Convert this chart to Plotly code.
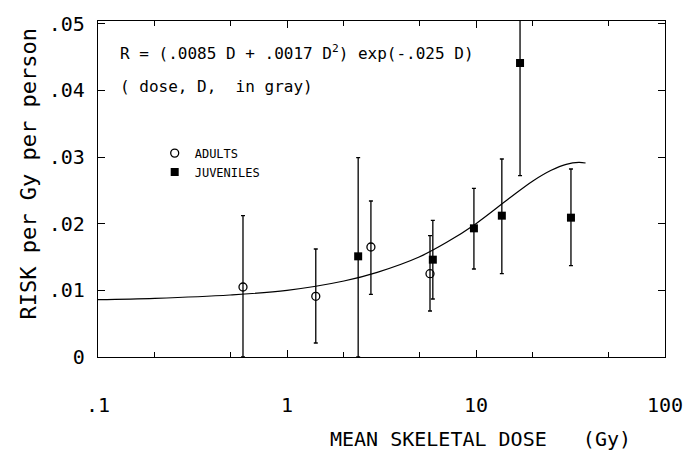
import plotly.graph_objects as go

# Adults (open circles)
adult_dose = [0.585, 1.42, 2.78, 5.71]
adult_risk = [0.0105, 0.0091, 0.0165, 0.0125]
adult_hi = [0.0212, 0.0162, 0.0234, 0.0182]
adult_lo = [0.0, 0.0021, 0.0094, 0.0069]

# Juveniles (filled squares)
juv_dose = [2.38, 5.91, 9.75, 13.7, 17.1, 31.8]
juv_risk = [0.0151, 0.0146, 0.0193, 0.0212, 0.0441, 0.0209]
juv_hi = [0.0299, 0.0205, 0.0253, 0.0297, 0.056, 0.0282]
juv_lo = [0.0, 0.0087, 0.0132, 0.0125, 0.0272, 0.0137]

# Fitted curve
curve_dose = [0.1, 0.2, 0.5, 1, 2, 3, 5, 7, 10, 15, 20, 25, 30, 35, 38]
curve_risk = [0.0086, 0.0088, 0.0093, 0.0100, 0.0114, 0.0127, 0.0150, 0.0172,
              0.0200, 0.0238, 0.0264, 0.0280, 0.0289, 0.0292, 0.0291]

x_ticks = [0.1, 1, 10, 100]
x_ticktext = [".1", "1", "10", "100"]
x_minor = [0.2, 0.5, 2, 5, 20, 50]
y_ticks = [0, 0.01, 0.02, 0.03, 0.04, 0.05]
y_ticktext = ["0", ".01", ".02", ".03", ".04", ".05"]

FONT = "DejaVu Sans Mono"

fig = go.Figure()
fig.add_trace(go.Scatter(
    x=curve_dose, y=curve_risk, mode="lines", line=dict(color="black", width=1.2, shape="spline"),
    showlegend=False, hoverinfo="skip"))

fig.add_trace(go.Scatter(
    x=adult_dose, y=adult_risk, mode="markers", name="ADULTS",
    marker=dict(symbol="circle-open", size=8, color="black", line=dict(width=1.3)),
    error_y=dict(type="data", symmetric=False,
                 array=[h - v for h, v in zip(adult_hi, adult_risk)],
                 arrayminus=[v - l for v, l in zip(adult_risk, adult_lo)],
                 color="black", thickness=1.3, width=2)))

fig.add_trace(go.Scatter(
    x=juv_dose, y=juv_risk, mode="markers", name="JUVENILES",
    marker=dict(symbol="square", size=8, color="black"),
    error_y=dict(type="data", symmetric=False,
                 array=[h - v for h, v in zip(juv_hi, juv_risk)],
                 arrayminus=[v - l for v, l in zip(juv_risk, juv_lo)],
                 color="black", thickness=1.3, width=2)))

fig.update_layout(
    width=695, height=450,
    margin=dict(l=98, r=30, t=15, b=93),
    paper_bgcolor="white", plot_bgcolor="white",
    font=dict(family=FONT, color="black"),
    legend=dict(x=0.1, y=0.65, xanchor="left", yanchor="top",
                font=dict(size=12, family=FONT), bgcolor="rgba(0,0,0,0)",
                itemwidth=30, tracegroupgap=2),
    xaxis=dict(type="log", range=[-1, 2], showgrid=False, zeroline=False,
               showline=True, linecolor="black", linewidth=1.3, mirror="ticks",
               ticks="inside", ticklen=7, tickcolor="black", tickwidth=1,
               tickvals=x_ticks, ticktext=x_ticktext,
               tickfont=dict(size=20, family=FONT), ticklabelstandoff=30,
               minor=dict(tickvals=x_minor, ticks="inside", ticklen=5, tickcolor="black", tickwidth=1)),
    yaxis=dict(range=[0, 0.0504], showgrid=False, zeroline=False,
               showline=True, linecolor="black", linewidth=1.3, mirror="ticks",
               ticks="inside", ticklen=7, tickcolor="black", tickwidth=1,
               tickvals=y_ticks, ticktext=y_ticktext,
               tickfont=dict(size=20, family=FONT), ticklabelstandoff=8),
)

fig.add_annotation(xref="paper", yref="paper", x=0.035, y=0.905, xanchor="left", yanchor="middle",
                   text="R = (.0085 D + .0017 D<sup>2</sup>) exp(-.025 D)", showarrow=False,
                   font=dict(size=16, family=FONT))
fig.add_annotation(xref="paper", yref="paper", x=0.035, y=0.805, xanchor="left", yanchor="middle",
                   text="( dose, D,  in gray)", showarrow=False, font=dict(size=16, family=FONT))
fig.add_annotation(xref="paper", yref="paper", x=0.675, y=-0.245, xanchor="center", yanchor="middle",
                   text="MEAN SKELETAL DOSE   (Gy)", showarrow=False, font=dict(size=20, family=FONT))
fig.add_annotation(xref="paper", yref="paper", x=-0.123, y=0.544, xanchor="center", yanchor="middle",
                   text="RISK per Gy per person", textangle=-90, showarrow=False,
                   font=dict(size=22, family=FONT))

fig.write_html("out.html")
